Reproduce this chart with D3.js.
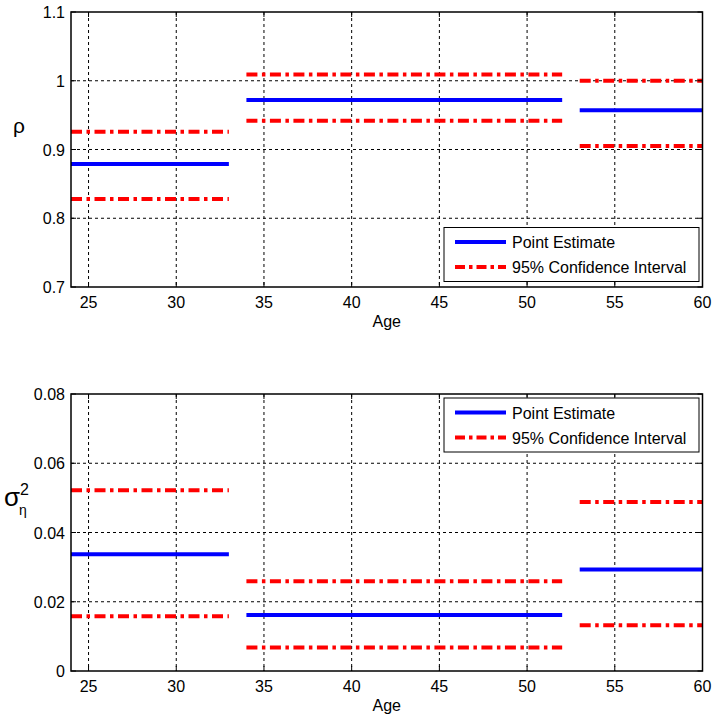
<!DOCTYPE html>
<html>
<head>
<meta charset="utf-8">
<script src="https://cdn.jsdelivr.net/npm/d3@7"></script>
<style>
  html, body { margin: 0; padding: 0; background: #fff; }
  svg { display: block; font-family: "Liberation Sans", Arial, Helvetica, sans-serif; }
</style>
</head>
<body>
<svg id="chart" width="712" height="719"></svg>
<script>
// ---------- data ----------
const ageStart = [24, 34, 53];
const ageEnd   = [33, 52, 60];

const rhoPoint = [0.879, 0.972, 0.957];
const rhoUpper = [0.926, 1.009, 1.000];
const rhoLower = [0.828, 0.942, 0.905];

const sigPoint = [0.0337, 0.0162, 0.0293];
const sigUpper = [0.0522, 0.0259, 0.0488];
const sigLower = [0.0158, 0.0068, 0.0132];

const xTicks = [25, 30, 35, 40, 45, 50, 55, 60];
const rhoTicks = [0.7, 0.8, 0.9, 1.0, 1.1];
const rhoTickLabels = ["0.7", "0.8", "0.9", "1", "1.1"];
const sigTicks = [0, 0.02, 0.04, 0.06, 0.08];
const sigTickLabels = ["0", "0.02", "0.04", "0.06", "0.08"];

const legendLabels = ["Point Estimate", "95% Confidence Interval"];
const xLabel = "Age";

// ---------- drawing ----------
const svg = d3.select("#chart");
const left = 71, right = 702.5;
const blue = "#0000ff", red = "#ff0000";
const ciDash = "11,4.5,3.5,4.5";
const fs = 16;

function panel(cfg) {
  const x = d3.scaleLinear().domain([24, 60]).range([left, right]);
  const y = d3.scaleLinear().domain(cfg.domain).range([cfg.bottom, cfg.top]);
  const g = svg.append("g");

  // grid
  g.selectAll(".vg").data(xTicks.filter(t => t > 24 && t < 60)).enter()
    .append("line")
    .attr("x1", d => x(d)).attr("x2", d => x(d))
    .attr("y1", cfg.top).attr("y2", cfg.bottom)
    .attr("stroke", "#000").attr("stroke-width", 1)
    .attr("stroke-dasharray", "3,3");
  g.selectAll(".hg").data(cfg.ticks.filter(t => t > cfg.domain[0] + 1e-9 && t < cfg.domain[1] - 1e-9)).enter()
    .append("line")
    .attr("x1", left).attr("x2", right)
    .attr("y1", d => y(d)).attr("y2", d => y(d))
    .attr("stroke", "#000").attr("stroke-width", 1)
    .attr("stroke-dasharray", "3,3");

  // data
  const n = ageStart.length;
  const idx = d3.range(n);
  function seg(vals, color, dash) {
    g.selectAll(null).data(idx).enter().append("line")
      .attr("x1", i => x(ageStart[i])).attr("x2", i => x(ageEnd[i]))
      .attr("y1", i => y(vals[i])).attr("y2", i => y(vals[i]))
      .attr("stroke", color).attr("stroke-width", 4)
      .attr("stroke-dasharray", dash);
  }
  seg(cfg.upper, red, ciDash);
  seg(cfg.lower, red, ciDash);
  seg(cfg.point, blue, null);

  // axes box
  g.append("rect")
    .attr("x", left).attr("y", cfg.top)
    .attr("width", right - left).attr("height", cfg.bottom - cfg.top)
    .attr("fill", "none").attr("stroke", "#000").attr("stroke-width", 1.5);

  // ticks (inside)
  g.selectAll(".xt").data(xTicks).enter().append("line")
    .attr("x1", d => x(d)).attr("x2", d => x(d))
    .attr("y1", cfg.bottom).attr("y2", cfg.bottom - 5)
    .attr("stroke", "#000");
  g.selectAll(".xt2").data(xTicks).enter().append("line")
    .attr("x1", d => x(d)).attr("x2", d => x(d))
    .attr("y1", cfg.top).attr("y2", cfg.top + 5)
    .attr("stroke", "#000");
  g.selectAll(".yt").data(cfg.ticks).enter().append("line")
    .attr("x1", left).attr("x2", left + 5)
    .attr("y1", d => y(d)).attr("y2", d => y(d))
    .attr("stroke", "#000");
  g.selectAll(".yt2").data(cfg.ticks).enter().append("line")
    .attr("x1", right).attr("x2", right - 5)
    .attr("y1", d => y(d)).attr("y2", d => y(d))
    .attr("stroke", "#000");

  // tick labels
  g.selectAll(".xl").data(xTicks).enter().append("text")
    .attr("x", d => x(d)).attr("y", cfg.bottom + 21)
    .attr("text-anchor", "middle").attr("font-size", fs).attr("fill", "#000")
    .text(d => d);
  g.selectAll(".yl").data(cfg.ticks).enter().append("text")
    .attr("x", left - 6).attr("y", d => y(d) + 6)
    .attr("text-anchor", "end").attr("font-size", fs).attr("fill", "#000")
    .text((d, i) => cfg.tickLabels[i]);

  // x label
  g.append("text")
    .attr("x", (left + right) / 2).attr("y", cfg.bottom + 40)
    .attr("text-anchor", "middle").attr("font-size", fs).attr("fill", "#000")
    .text(xLabel);

  // legend
  const lg = g.append("g");
  const lx = 444, ly = cfg.legendTop, lw = 255, lh = 54;
  lg.append("rect").attr("x", lx).attr("y", ly).attr("width", lw).attr("height", lh)
    .attr("fill", "#fff").attr("stroke", "#000").attr("stroke-width", 1);
  const rows = [{c: blue, d: null}, {c: red, d: "10,4,3.5,4"}];
  rows.forEach((r, i) => {
    const yy = ly + 14.5 + i * 25;
    lg.append("line").attr("x1", 455).attr("x2", 506).attr("y1", yy).attr("y2", yy)
      .attr("stroke", r.c).attr("stroke-width", 4).attr("stroke-dasharray", r.d);
    lg.append("text").attr("x", 512).attr("y", yy + 6)
      .attr("font-size", fs).attr("fill", "#000").text(legendLabels[i]);
  });

  return g;
}

const g1 = panel({domain: [0.7, 1.1], top: 12, bottom: 287, ticks: rhoTicks, tickLabels: rhoTickLabels,
  point: rhoPoint, upper: rhoUpper, lower: rhoLower, legendTop: 227.5});
g1.append("text").attr("x", 19).attr("y", 133).attr("text-anchor", "middle")
  .attr("font-size", 21).attr("fill", "#000").text("ρ");

const g2 = panel({domain: [0, 0.08], top: 394, bottom: 671, ticks: sigTicks, tickLabels: sigTickLabels,
  point: sigPoint, upper: sigUpper, lower: sigLower, legendTop: 398});
g2.append("text").attr("x", 4).attr("y", 506).attr("font-size", 26).attr("fill", "#000").text("σ");
g2.append("text").attr("x", 20).attr("y", 495).attr("font-size", 16).attr("fill", "#000").text("2");
g2.append("text").attr("x", 19).attr("y", 515).attr("font-size", 14).attr("fill", "#000").text("η");
</script>
</body>
</html>
